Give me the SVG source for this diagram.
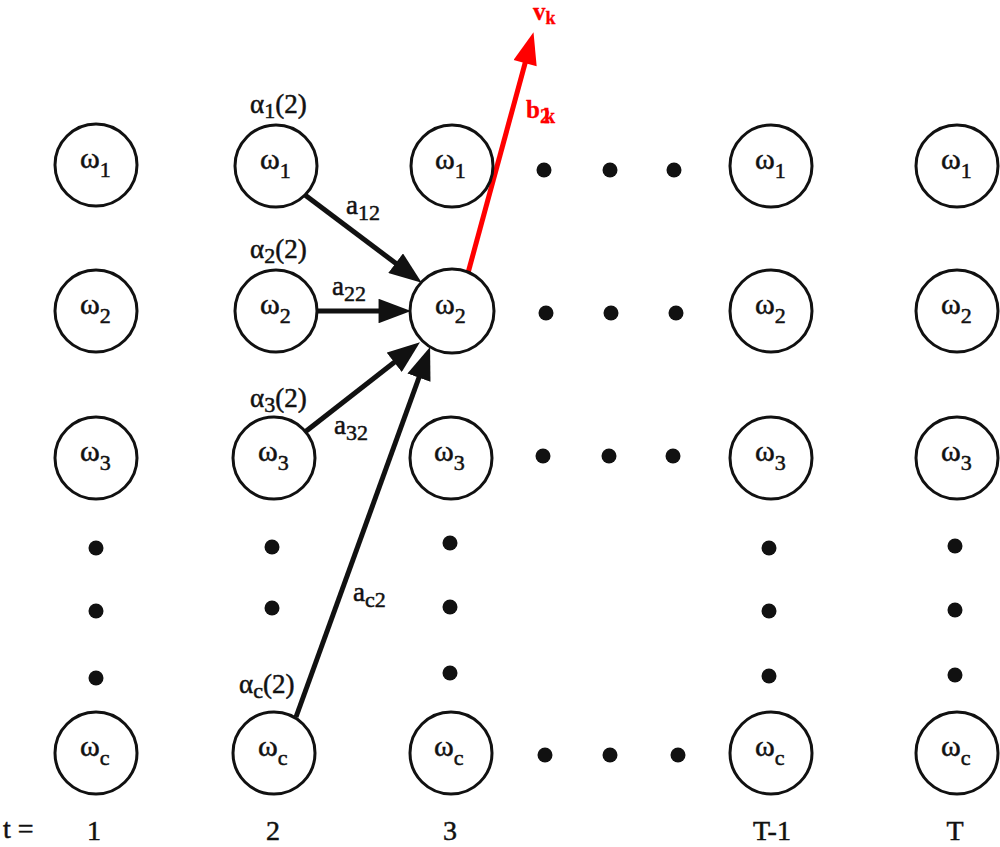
<svg xmlns="http://www.w3.org/2000/svg" width="1000" height="847" viewBox="0 0 1000 847">
<style>
text{font-family:"Liberation Serif","Times New Roman",serif;fill:#111;stroke:#111;stroke-width:0.5;}
.n circle{fill:#fff;stroke:#111;stroke-width:3;}
.w{font-size:30px;}
.s{font-size:22px;}
.lab{font-size:27px;}
.t{font-size:28px;}
.dot{fill:#111;}
.c{stroke:#111;stroke-width:5;fill:none;}
.r{stroke:#ff0000;stroke-width:5;fill:none;}
.rt{fill:#ff0000;stroke:#ff0000;font-size:25px;font-weight:bold;stroke-width:0.3;}
</style>
<defs>
<marker id="ah" viewBox="0 0 12 9" markerWidth="6.6" markerHeight="4.9" refX="2" refY="4.5" orient="auto" markerUnits="strokeWidth">
<path d="M0,0 L12,4.5 L0,9 Z" fill="#111"/>
</marker>
<marker id="ahr" viewBox="0 0 12 9" markerWidth="7" markerHeight="4.8" refX="2" refY="4.5" orient="auto" markerUnits="strokeWidth">
<path d="M0,0 L12,4.5 L0,9 Z" fill="#ff0000"/>
</marker>
</defs>

<g id="connectors">
<line class="c" x1="305" y1="195" x2="400" y2="266.5" marker-end="url(#ah)"/>
<line class="c" x1="317" y1="311" x2="384" y2="311" marker-end="url(#ah)"/>
<line class="c" x1="305" y1="432" x2="398.5" y2="359" marker-end="url(#ah)"/>
<line class="c" x1="296" y1="717" x2="420.8" y2="372.5" marker-end="url(#ah)"/>
<line class="r" x1="468" y1="273" x2="526.5" y2="58" marker-end="url(#ahr)"/>
<text class="lab" x="346" y="214">a<tspan class="s" dy="6">12</tspan></text>
<text class="lab" x="332" y="295">a<tspan class="s" dy="6">22</tspan></text>
<text class="lab" x="334" y="434">a<tspan class="s" dy="6">32</tspan></text>
<text class="lab" x="353" y="601">a<tspan class="s" dy="6">c2</tspan></text>
<text class="rt" x="526" y="118">b<tspan font-size="20" dy="5" letter-spacing="-6">2k</tspan></text>
<text class="rt" x="533" y="20">v<tspan font-size="18" dy="4">k</tspan></text>
</g>

<g id="alphas">
<text class="lab" x="250" y="113">α<tspan class="s" dy="5">1</tspan><tspan dy="-5">(2)</tspan></text>
<text class="lab" x="250" y="258">α<tspan class="s" dy="5">2</tspan><tspan dy="-5">(2)</tspan></text>
<text class="lab" x="250" y="407">α<tspan class="s" dy="5">3</tspan><tspan dy="-5">(2)</tspan></text>
<text class="lab" x="239" y="693">α<tspan class="s" dy="5">c</tspan><tspan dy="-5">(2)</tspan></text>
</g>

<g id="n1-1" class="n"><circle cx="96" cy="165" r="41"/><text class="w" x="80" y="168">ω<tspan class="s" dy="9">1</tspan></text></g>
<g id="n1-2" class="n"><circle cx="96" cy="311" r="41"/><text class="w" x="80" y="314">ω<tspan class="s" dy="9">2</tspan></text></g>
<g id="n1-3" class="n"><circle cx="96" cy="458" r="41"/><text class="w" x="80" y="461">ω<tspan class="s" dy="9">3</tspan></text></g>
<g id="n1-c" class="n"><circle cx="96" cy="753" r="41"/><text class="w" x="80" y="756">ω<tspan class="s" dy="9">c</tspan></text></g>

<g id="n2-1" class="n"><circle cx="276" cy="166" r="41"/><text class="w" x="260" y="169">ω<tspan class="s" dy="9">1</tspan></text></g>
<g id="n2-2" class="n"><circle cx="276" cy="311" r="41"/><text class="w" x="260" y="314">ω<tspan class="s" dy="9">2</tspan></text></g>
<g id="n2-3" class="n"><circle cx="274" cy="458" r="41"/><text class="w" x="258" y="461">ω<tspan class="s" dy="9">3</tspan></text></g>
<g id="n2-c" class="n"><circle cx="274" cy="753" r="41"/><text class="w" x="258" y="756">ω<tspan class="s" dy="9">c</tspan></text></g>

<g id="n3-1" class="n"><circle cx="452" cy="166" r="41"/><text class="w" x="435" y="169">ω<tspan class="s" dy="9">1</tspan></text></g>
<g id="n3-2" class="n"><circle cx="452" cy="311" r="42"/><text class="w" x="435" y="314">ω<tspan class="s" dy="9">2</tspan></text></g>
<g id="n3-3" class="n"><circle cx="451" cy="458" r="41"/><text class="w" x="434" y="461">ω<tspan class="s" dy="9">3</tspan></text></g>
<g id="n3-c" class="n"><circle cx="451" cy="753" r="41"/><text class="w" x="434" y="756">ω<tspan class="s" dy="9">c</tspan></text></g>

<g id="nT1-1" class="n"><circle cx="771" cy="166" r="41"/><text class="w" x="755" y="169">ω<tspan class="s" dy="9">1</tspan></text></g>
<g id="nT1-2" class="n"><circle cx="771" cy="311" r="41"/><text class="w" x="755" y="314">ω<tspan class="s" dy="9">2</tspan></text></g>
<g id="nT1-3" class="n"><circle cx="771" cy="458" r="41"/><text class="w" x="755" y="461">ω<tspan class="s" dy="9">3</tspan></text></g>
<g id="nT1-c" class="n"><circle cx="771" cy="753" r="41"/><text class="w" x="755" y="756">ω<tspan class="s" dy="9">c</tspan></text></g>

<g id="nT-1" class="n"><circle cx="957" cy="166" r="41"/><text class="w" x="941" y="169">ω<tspan class="s" dy="9">1</tspan></text></g>
<g id="nT-2" class="n"><circle cx="957" cy="311" r="41"/><text class="w" x="941" y="314">ω<tspan class="s" dy="9">2</tspan></text></g>
<g id="nT-3" class="n"><circle cx="957" cy="458" r="41"/><text class="w" x="941" y="461">ω<tspan class="s" dy="9">3</tspan></text></g>
<g id="nT-c" class="n"><circle cx="957" cy="753" r="41"/><text class="w" x="941" y="756">ω<tspan class="s" dy="9">c</tspan></text></g>

<g id="dots" class="dot">
<circle cx="544" cy="170" r="7.5"/><circle cx="610" cy="170" r="7.5"/><circle cx="674" cy="170" r="7.5"/>
<circle cx="546" cy="313" r="7.5"/><circle cx="611" cy="313" r="7.5"/><circle cx="676" cy="313" r="7.5"/>
<circle cx="543" cy="456" r="7.5"/><circle cx="609" cy="456" r="7.5"/><circle cx="673" cy="456" r="7.5"/>
<circle cx="545" cy="755" r="7.5"/><circle cx="610" cy="755" r="7.5"/><circle cx="678" cy="755" r="7.5"/>
<circle cx="96" cy="548" r="7.5"/><circle cx="96" cy="611" r="7.5"/><circle cx="96" cy="678" r="7.5"/>
<circle cx="272" cy="547" r="7.5"/><circle cx="272" cy="608" r="7.5"/>
<circle cx="450" cy="543" r="7.5"/><circle cx="450" cy="607" r="7.5"/><circle cx="450" cy="673" r="7.5"/>
<circle cx="769" cy="548" r="7.5"/><circle cx="769" cy="611" r="7.5"/><circle cx="769" cy="676" r="7.5"/>
<circle cx="955" cy="546" r="7.5"/><circle cx="955" cy="610" r="7.5"/><circle cx="955" cy="675" r="7.5"/>
</g>

<g id="axis">
<text class="t" x="3" y="838">t =</text>
<text class="t" x="94" y="840" text-anchor="middle">1</text>
<text class="t" x="273" y="840" text-anchor="middle">2</text>
<text class="t" x="450" y="840" text-anchor="middle">3</text>
<text class="t" x="772" y="840" text-anchor="middle">T-1</text>
<text class="t" x="955" y="840" text-anchor="middle">T</text>
</g>
</svg>
